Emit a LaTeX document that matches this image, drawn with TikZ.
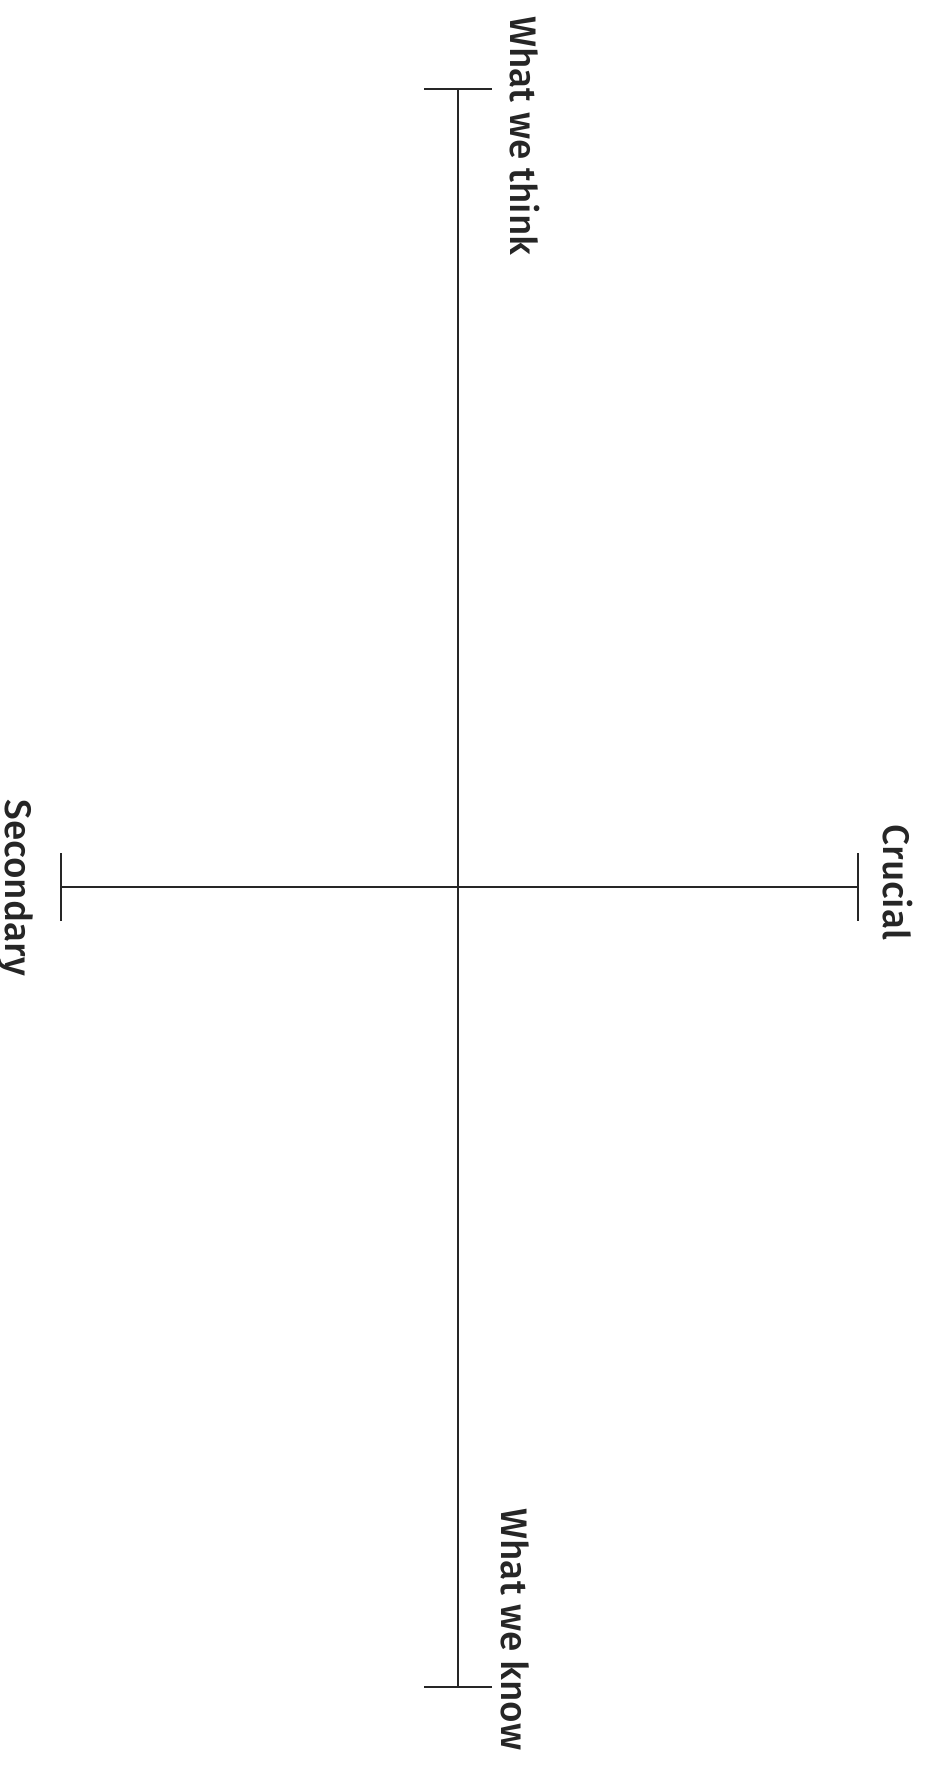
\documentclass[tikz,border=0pt]{standalone}
\usepackage{fontspec}
\setmainfont{Fira Sans Medium}
\usetikzlibrary{arrows.meta,positioning}

\begin{document}
\begin{tikzpicture}[every node/.style={font=\fontsize{10.5}{12}\selectfont},
    axisline/.style={line width=0.6pt,draw=black!85,{Bar[width=6.8mm]}-{Bar[width=6.8mm]}},
    axislabel/.style={rotate=-90,inner sep=0pt,anchor=center,text=black!85}]
  \useasboundingbox (0,0) rectangle (9.24,-17.73);
  %% Axis end points
  \coordinate (top)    at (4.58,-0.877);
  \coordinate (bottom) at (4.58,-16.88);
  \coordinate (left)   at (0.60,-8.87);
  \coordinate (right)  at (8.59,-8.87);
  %% Axes
  \draw[axisline] (top) -- (bottom);
  \draw[axisline] (left) -- (right);
  %% Labels
  \node[axislabel] (think)     at (5.25,-1.36)  {What we think};
  \node[axislabel] (know)      at (5.15,-16.295) {What we know};
  \node[axislabel] (secondary) at (0.15,-8.875) {Secondary};
  \node[axislabel] (crucial)   at (8.975,-8.825) {Crucial};
\end{tikzpicture}
\end{document}
